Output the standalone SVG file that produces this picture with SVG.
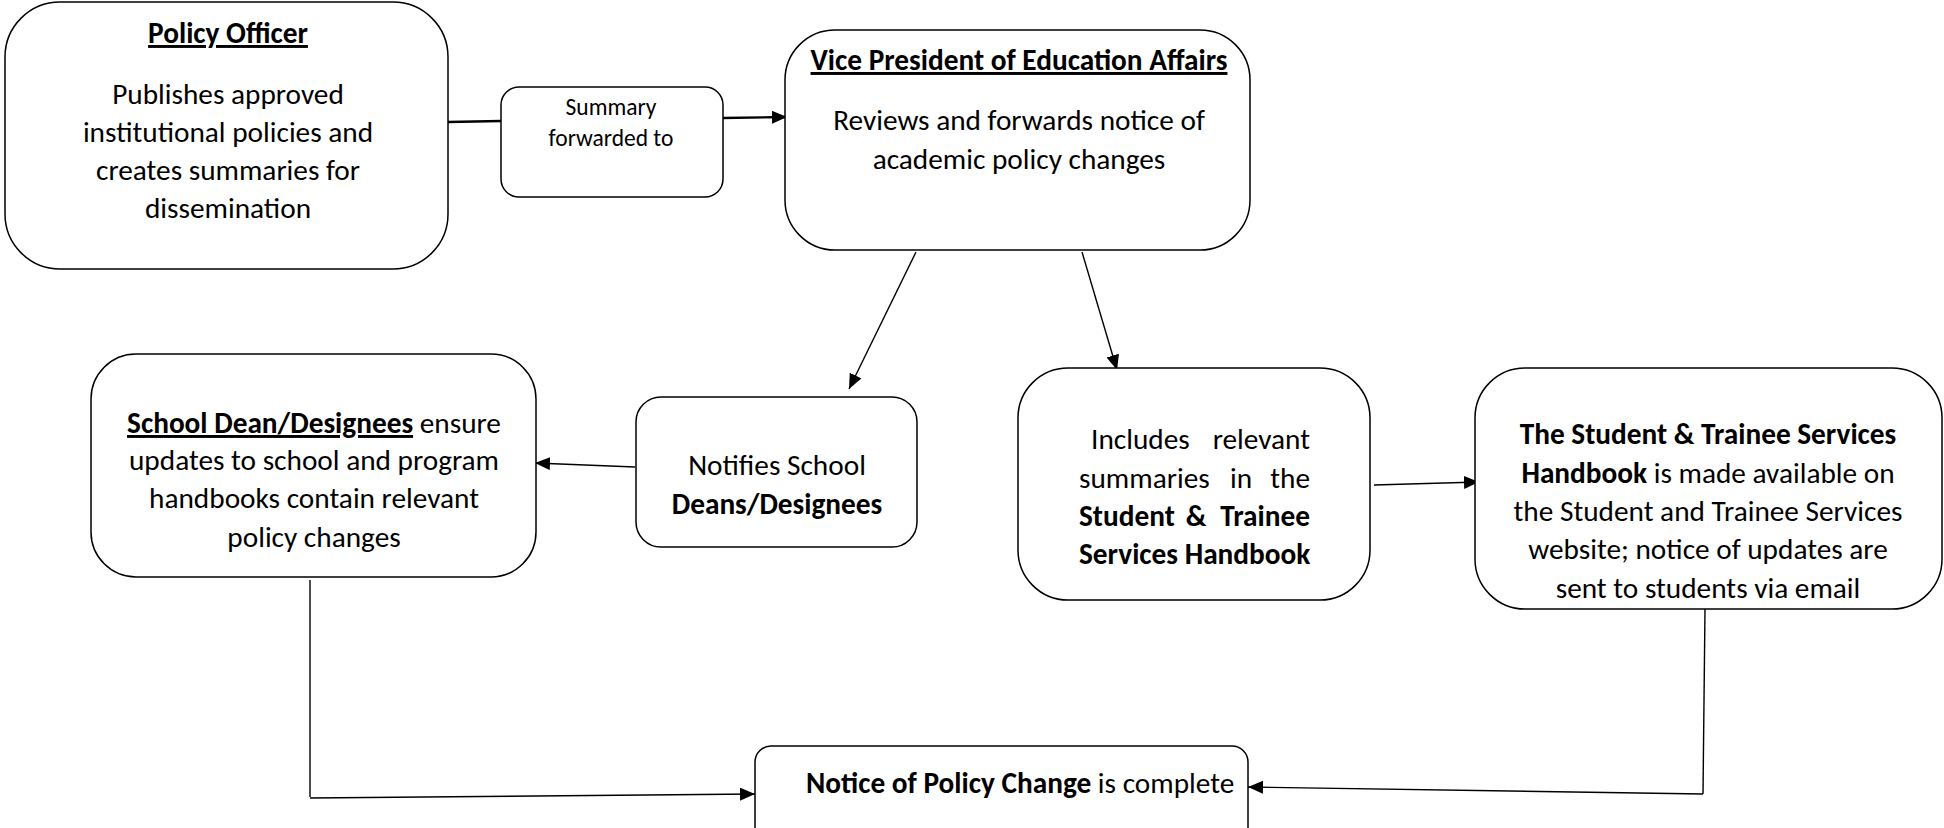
<svg xmlns="http://www.w3.org/2000/svg" width="1944" height="828" viewBox="0 0 1944 828">
  <defs>
    <marker id="arrow" viewBox="0 0 15 13" refX="15" refY="6.5" markerWidth="15" markerHeight="13" markerUnits="userSpaceOnUse" orient="auto">
      <path d="M0,0 L15,6.5 L0,13 Z" fill="#000"/>
    </marker>
    <style>
      .box { fill: #fff; stroke: #000; stroke-width: 1.5; }
      .t { font-family: Carlito, Lato, "Liberation Sans", sans-serif; font-size: 29.3px; fill: #000; }
      .c { text-anchor: middle; }
      .sm { font-size: 23.5px; }
      .b { font-weight: bold; }
      .u { text-decoration: underline; }
      .wire { fill: none; stroke: #000; stroke-width: 1.4; }
      .thick { stroke-width: 2.4; }
    </style>
  </defs>
  <rect width="1944" height="828" fill="#fff"/>

  <g id="connectors">
    <line class="wire thick" x1="448" y1="122" x2="501" y2="121"/>
    <line class="wire thick" x1="723" y1="118" x2="787" y2="117" marker-end="url(#arrow)"/>
    <line class="wire" x1="916" y1="252" x2="849" y2="389" marker-end="url(#arrow)"/>
    <line class="wire" x1="1082" y1="252" x2="1117" y2="370" marker-end="url(#arrow)"/>
    <line class="wire" x1="635" y1="467" x2="535" y2="463" marker-end="url(#arrow)"/>
    <line class="wire" x1="1374" y1="485" x2="1479" y2="482" marker-end="url(#arrow)"/>
    <polyline class="wire" points="310,580 310,797"/>
    <line class="wire" x1="310" y1="798" x2="755" y2="794" marker-end="url(#arrow)"/>
    <polyline class="wire" points="1705,609 1703,794"/>
    <line class="wire" x1="1703" y1="794" x2="1248" y2="787" marker-end="url(#arrow)"/>
  </g>

  <g id="policy-officer">
    <rect class="box" x="5" y="2" width="443" height="267" rx="55"/>
    <text class="t c b u" x="228" y="43">Policy Officer</text>
    <text class="t c" x="228" y="104">Publishes approved</text>
    <text class="t c" x="228" y="142">institutional policies and</text>
    <text class="t c" x="228" y="180">creates summaries for</text>
    <text class="t c" x="228" y="218">dissemination</text>
  </g>

  <g id="summary-forwarded">
    <rect class="box" x="501" y="87" width="222" height="110" rx="18"/>
    <text class="t c sm" x="611" y="115">Summary</text>
    <text class="t c sm" x="611" y="146">forwarded to</text>
  </g>

  <g id="vice-president">
    <rect class="box" x="785" y="30" width="465" height="220" rx="50"/>
    <text class="t c b u" x="1019" y="70">Vice President of Education Affairs</text>
    <text class="t c" x="1019" y="130">Reviews and forwards notice of</text>
    <text class="t c" x="1019" y="169">academic policy changes</text>
  </g>

  <g id="school-dean">
    <rect class="box" x="91" y="354" width="445" height="223" rx="45"/>
    <text class="t c" x="314" y="433"><tspan class="b u">School Dean/Designees</tspan> ensure</text>
    <text class="t c" x="314" y="470">updates to school and program</text>
    <text class="t c" x="314" y="508">handbooks contain relevant</text>
    <text class="t c" x="314" y="547">policy changes</text>
  </g>

  <g id="notifies-deans">
    <rect class="box" x="636" y="397" width="281" height="150" rx="25"/>
    <text class="t c" x="777" y="475">Notifies School</text>
    <text class="t c b" x="777" y="514">Deans/Designees</text>
  </g>

  <g id="handbook-summaries">
    <rect class="box" x="1018" y="368" width="352" height="232" rx="50"/>
    <text class="t" x="1091" y="449">Includes</text>
    <text class="t" x="1310" y="449" text-anchor="end">relevant</text>
    <text class="t" x="1079" y="488">summaries</text>
    <text class="t c" x="1241" y="488">in</text>
    <text class="t" x="1310" y="488" text-anchor="end">the</text>
    <text class="t b" x="1079" y="526">Student</text>
    <text class="t c b" x="1196" y="526">&amp;</text>
    <text class="t b" x="1310" y="526" text-anchor="end">Trainee</text>
    <text class="t b" x="1079" y="564">Services Handbook</text>
  </g>

  <g id="student-services">
    <rect class="box" x="1475" y="368" width="467" height="241" rx="50"/>
    <text class="t c b" x="1708" y="444">The Student &amp; Trainee Services</text>
    <text class="t c" x="1708" y="483"><tspan class="b">Handbook</tspan> is made available on</text>
    <text class="t c" x="1708" y="521">the Student and Trainee Services</text>
    <text class="t c" x="1708" y="559">website; notice of updates are</text>
    <text class="t c" x="1708" y="598">sent to students via email</text>
  </g>

  <g id="notice-complete">
    <rect class="box" x="755" y="746" width="493" height="100" rx="16"/>
    <text class="t" x="806" y="793"><tspan class="b">Notice of Policy Change</tspan> is complete</text>
  </g>
</svg>
